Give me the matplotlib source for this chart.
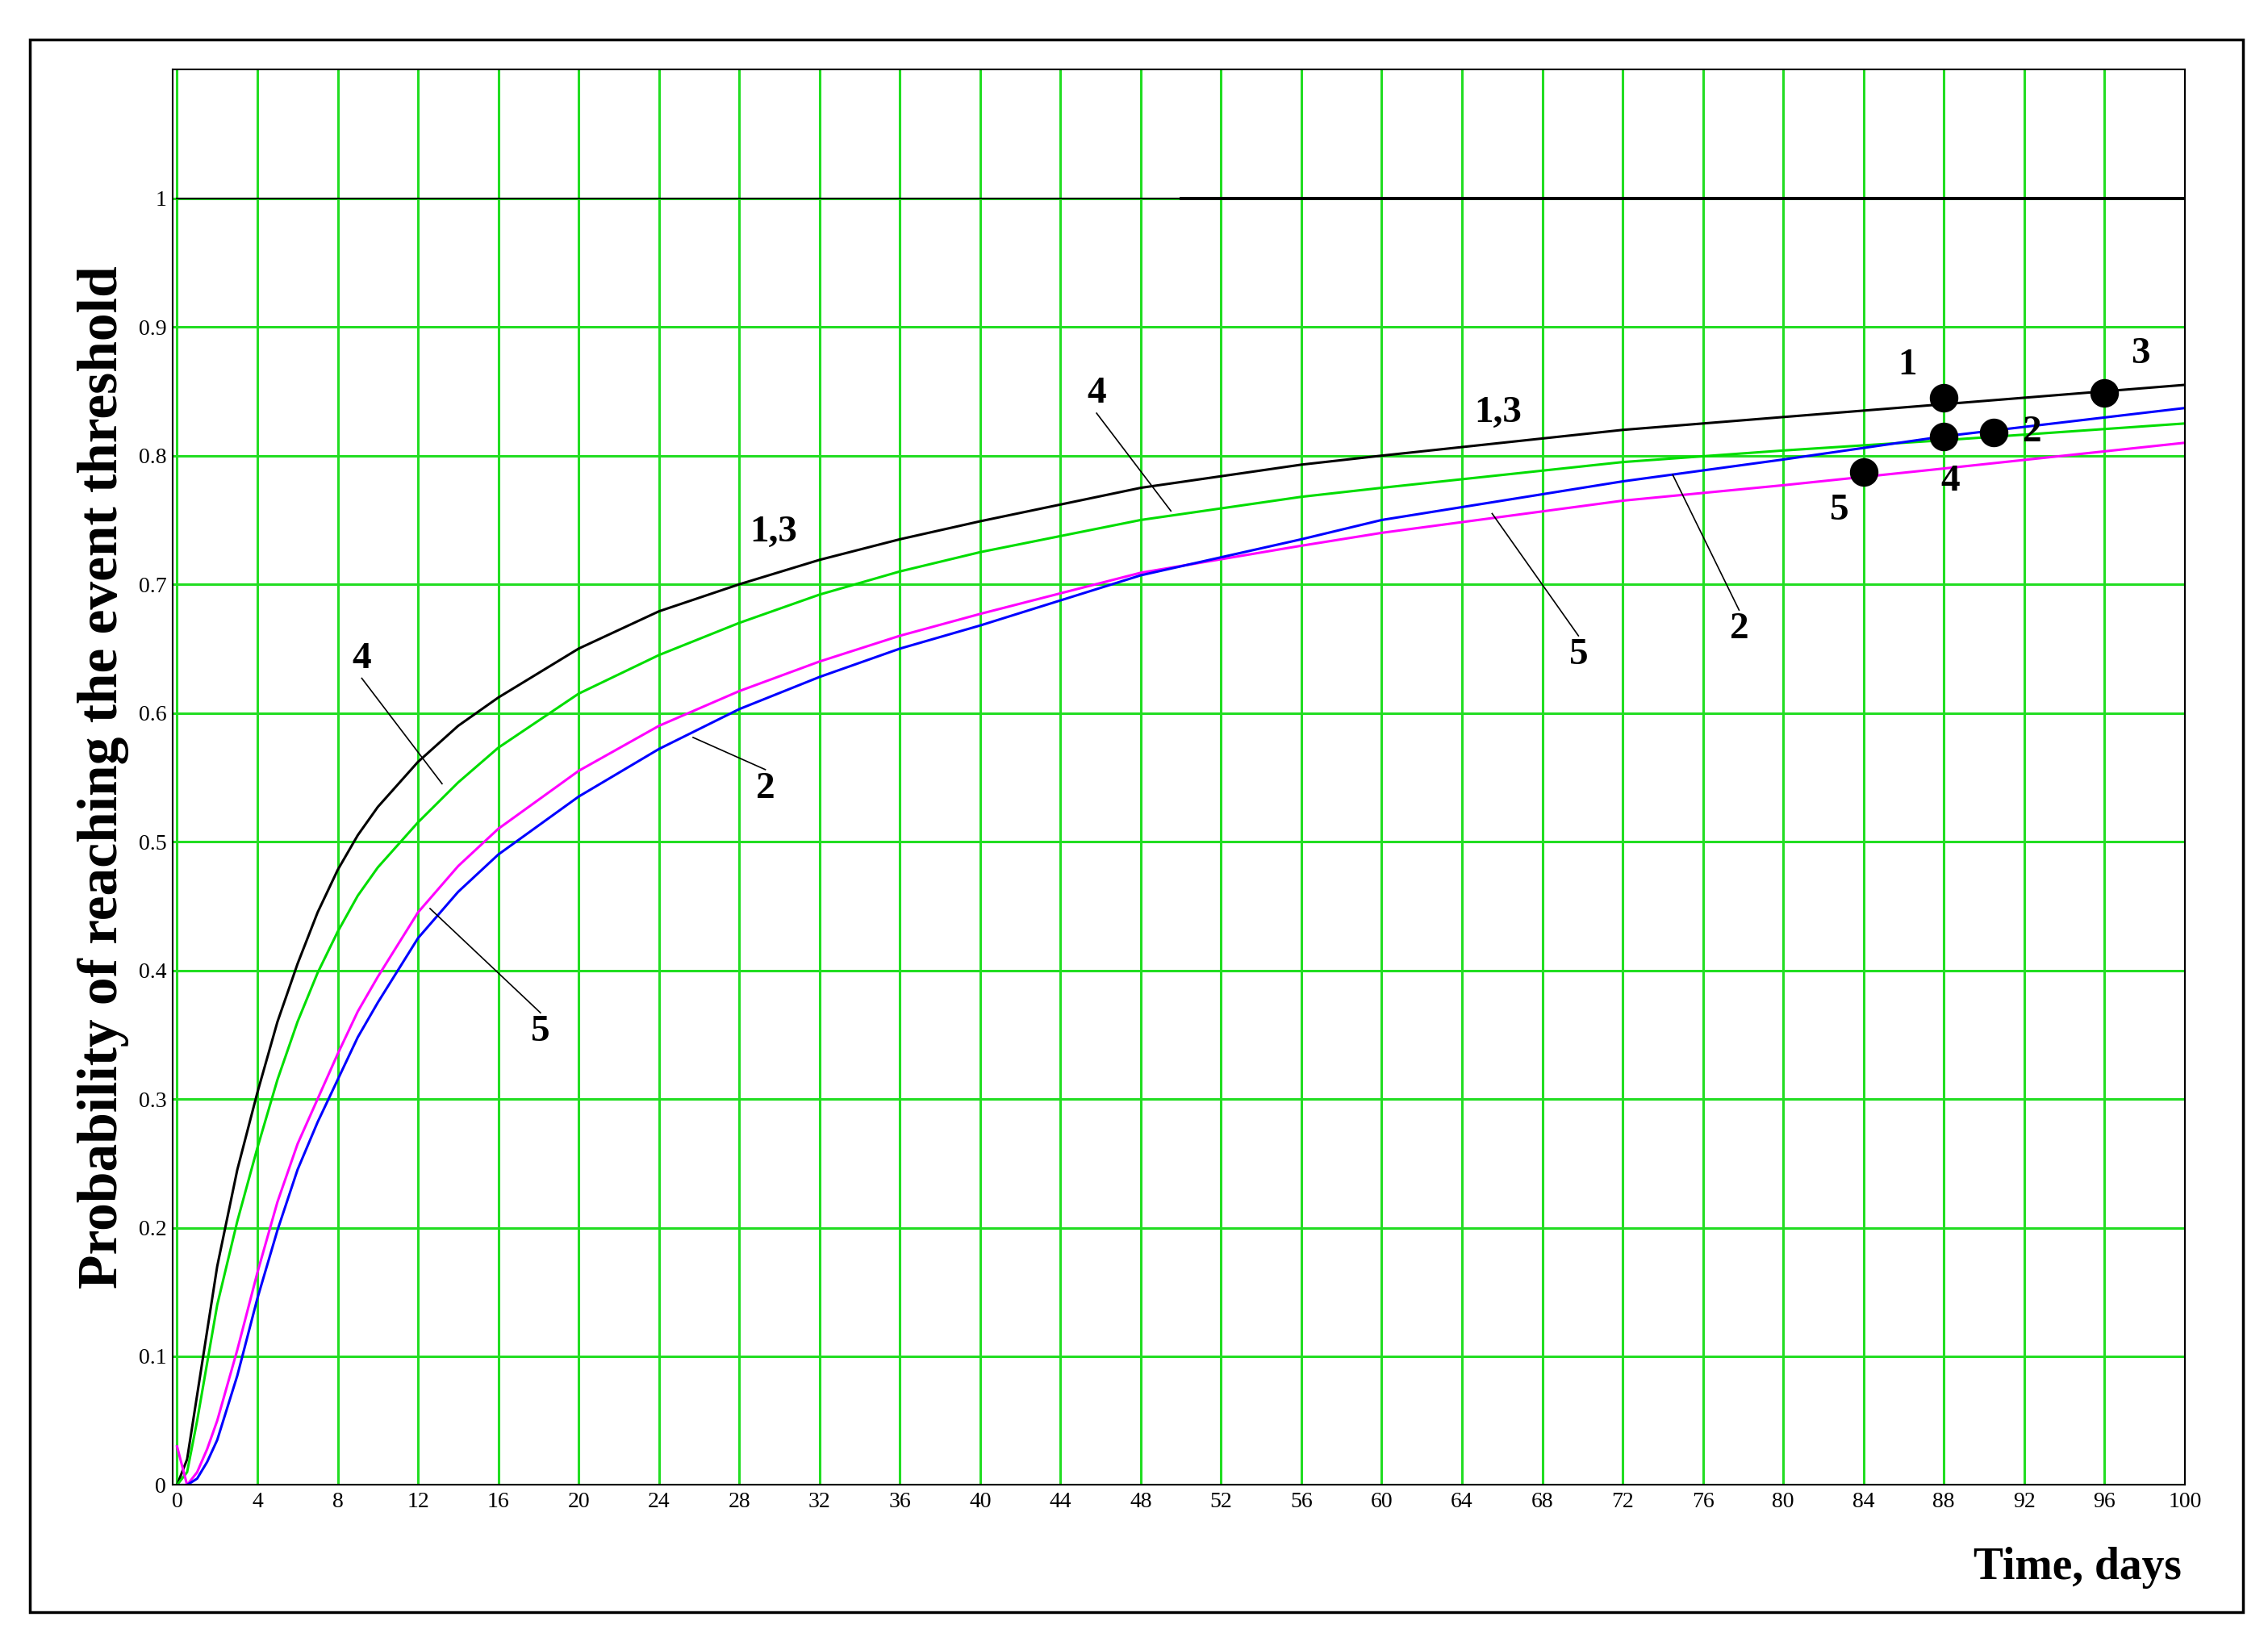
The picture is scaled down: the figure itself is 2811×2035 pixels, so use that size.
import matplotlib
matplotlib.use("Agg")
import matplotlib.pyplot as plt
from matplotlib.patches import Rectangle

t = [0, 0.5, 1, 1.5, 2, 3, 4, 5, 6, 7, 8, 9, 10, 12, 14, 16, 20, 24, 28, 32, 36, 40, 48, 56, 60, 72, 80, 88, 100]
p13 = [0, 0.02, 0.07, 0.12, 0.17, 0.245, 0.305, 0.36, 0.405, 0.445, 0.478, 0.505, 0.527, 0.562, 0.59, 0.612, 0.65, 0.679, 0.700, 0.719, 0.735, 0.749, 0.775, 0.793, 0.800, 0.820, 0.830, 0.840, 0.855]
p4 = [0, 0.01, 0.05, 0.095, 0.14, 0.205, 0.262, 0.315, 0.36, 0.398, 0.43, 0.458, 0.48, 0.515, 0.546, 0.573, 0.615, 0.645, 0.670, 0.692, 0.710, 0.725, 0.750, 0.768, 0.775, 0.795, 0.804, 0.812, 0.825]
p5 = [0.03, 0.0, 0.01, 0.028, 0.05, 0.105, 0.165, 0.22, 0.265, 0.30, 0.335, 0.368, 0.395, 0.445, 0.481, 0.51, 0.555, 0.590, 0.617, 0.640, 0.660, 0.677, 0.709, 0.730, 0.740, 0.765, 0.777, 0.790, 0.810]
p2 = [0, 0.0, 0.005, 0.018, 0.035, 0.085, 0.145, 0.198, 0.245, 0.282, 0.315, 0.348, 0.375, 0.425, 0.461, 0.49, 0.535, 0.572, 0.603, 0.628, 0.650, 0.668, 0.707, 0.735, 0.750, 0.780, 0.797, 0.815, 0.837]
pt_x = [88, 88, 90.5, 96, 84]
pt_y = [0.845, 0.815, 0.818, 0.849, 0.787]
pt_lbl = ["1", "4", "2", "3", "5"]
xticks = list(range(0, 101, 4))
yticks = [i / 10 for i in range(11)]

fig = plt.figure(figsize=(28.11, 20.35), dpi=100)
fig.patches.append(Rectangle((0.013, 0.018), 0.976, 0.958, transform=fig.transFigure,
                             fill=False, edgecolor="black", lw=2.5))
ax = fig.add_axes([0.0763, 0.0956, 0.887, 0.862])
ax.set_xlim(-0.2, 100)
ax.set_ylim(0, 1.1)
ax.set_xticks(xticks)
ax.set_yticks(yticks)
ax.set_xticklabels([str(v) for v in xticks], fontfamily="Liberation Serif", fontsize=20)
ax.set_yticklabels(["0"] + [f"{v:.1f}" for v in yticks[1:-1]] + ["1"], fontfamily="Liberation Serif", fontsize=20)
ax.grid(True, color="#22dd22", lw=2.2)
ax.tick_params(length=0, pad=6)
for s in ax.spines.values():
    s.set_color("black"); s.set_linewidth(1.5)

ax.plot([0, 50], [1, 1], color="black", lw=1.5)
ax.plot([50, 100], [1, 1], color="black", lw=2.8)
ax.plot(t, p13, color="black", lw=2.2)
ax.plot(t, p4, color="#00dd00", lw=2.2)
ax.plot(t, p5, color="#ff00ff", lw=2.2)
ax.plot(t, p2, color="#0000ff", lw=2.2)
ax.scatter(pt_x, pt_y, s=600, color="black", zorder=5)

bold = dict(fontfamily="Liberation Serif", fontweight="bold", fontsize=34)
offs = {"1": (-1.8, 0.025), "4": (0.3, -0.035), "2": (1.9, 0.0), "3": (1.8, 0.03), "5": (-1.2, -0.03)}
for x, y, l in zip(pt_x, pt_y, pt_lbl):
    dx, dy = offs[l]
    ax.text(x + dx, y + dy, l, ha="center", va="center", **bold)

ann = [("1,3", 29.7, 0.74, None, None), ("1,3", 65.8, 0.833, None, None),
       ("4", 45.8, 0.848, 49.5, 0.757), ("4", 9.2, 0.642, 13.2, 0.545),
       ("2", 29.3, 0.541, 25.7, 0.581), ("5", 18.1, 0.352, 12.6, 0.448),
       ("5", 69.8, 0.645, 65.5, 0.755), ("2", 77.8, 0.665, 74.5, 0.785)]
for l, x, y, x2, y2 in ann:
    if x2 is not None:
        ax.plot([x, x2], [y - 0.015 if y > y2 else y + 0.015, y2], color="black", lw=1.2)
    ax.text(x, y, l, ha="center", va="center", **bold)

ax.set_ylabel("Probability of reaching the event threshold", fontfamily="Liberation Serif",
              fontweight="bold", fontsize=50, labelpad=8)
fig.text(0.962, 0.045, "Time, days", ha="right", va="center", fontfamily="Liberation Serif",
         fontweight="bold", fontsize=40)
fig.savefig("out.png", dpi=100)
